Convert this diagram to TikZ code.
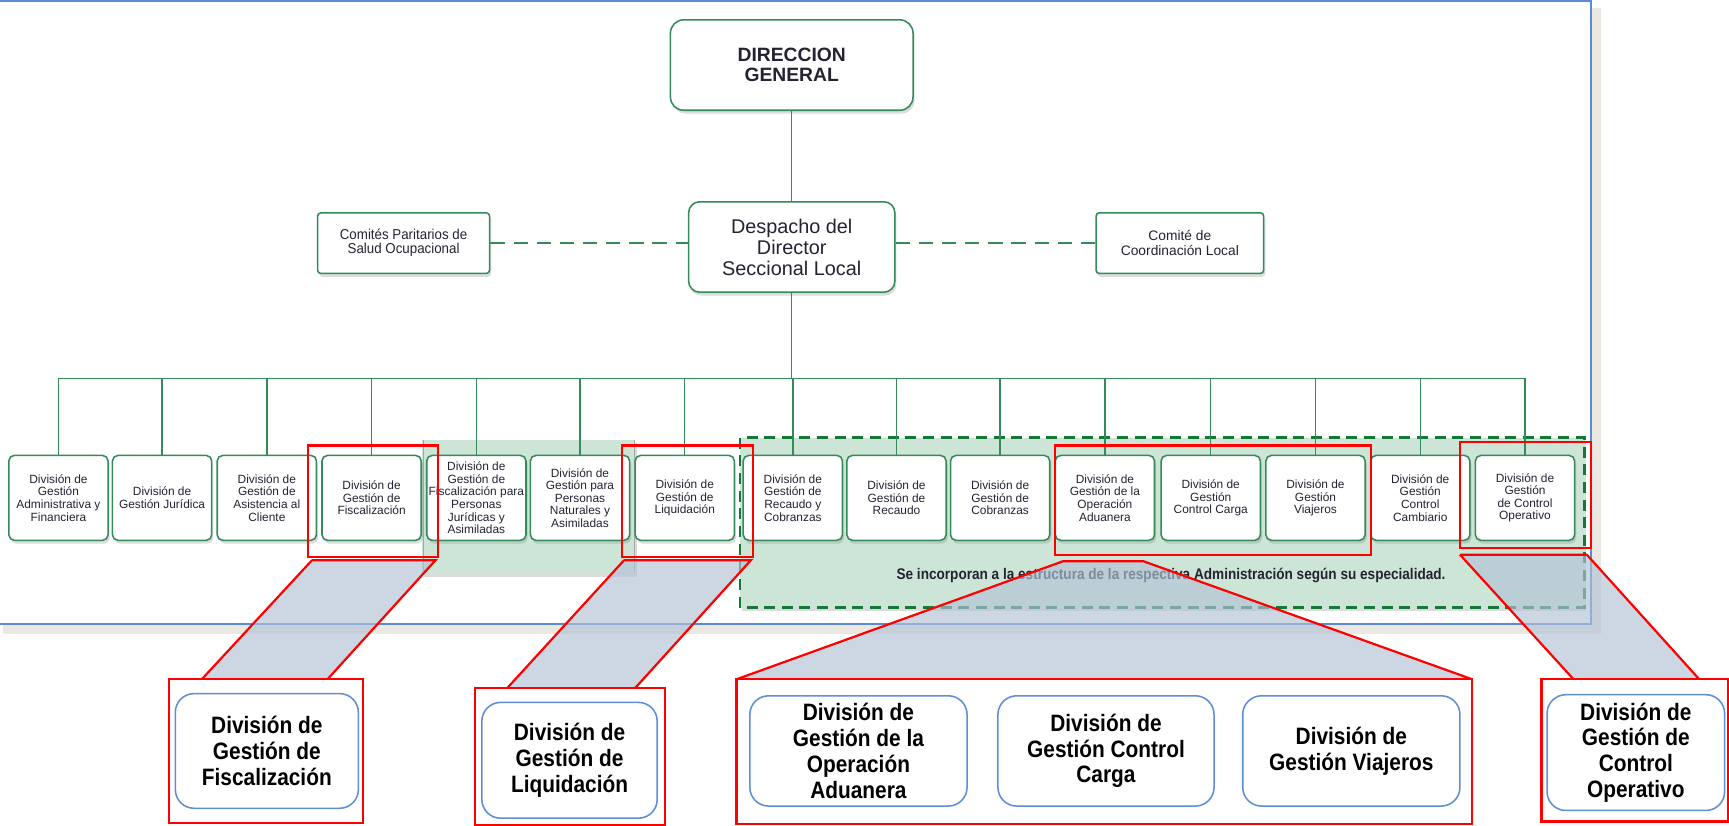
\documentclass[tikz,border=0pt]{standalone}
\usepackage{fontspec}
\setmainfont{Liberation Sans}
\newfontfamily\narrowfam[FakeStretch=0.88]{Liberation Sans}
\newfontfamily\condfam[FakeStretch=0.93]{Liberation Sans}
\usetikzlibrary{shadows}
\definecolor{bgreen}{RGB}{52,138,88}
\definecolor{regfill}{RGB}{205,229,214}
\definecolor{dgreen}{RGB}{20,120,55}
\definecolor{frameblue}{RGB}{91,139,214}
\definecolor{boxblue}{RGB}{96,142,214}
\definecolor{trapfill}{RGB}{178,194,214}
\definecolor{beige}{RGB}{234,232,224}
\definecolor{txtgray}{RGB}{35,35,50}
\definecolor{pured}{RGB}{255,0,0}
\tikzset{
  soft/.style={drop shadow={opacity=0.28, shadow xshift=1.5pt, shadow yshift=-3pt}},
  greenbox/.style={draw=bgreen, line width=1.4pt, fill=white, align=center, inner sep=1pt, text=txtgray, soft},
  smallbox/.style={greenbox, rounded corners=5pt, minimum width=90pt, minimum height=77pt,
    font=\fontsize{10.8}{11.4}\selectfont},
  conn/.style={draw=bgreen, line width=1.3pt},
  dconn/.style={draw=bgreen, line width=1.8pt, dash pattern=on 13pt off 8pt},
  redline/.style={draw=pured, line width=2pt},
  trap/.style={fill=trapfill, fill opacity=0.65},
  bluebox/.style={draw=boxblue, line width=1.4pt, rounded corners=17pt, fill=white, align=center,
    inner sep=1pt, font=\narrowfam\bfseries\fontsize{21.5}{23.3}\selectfont, text=black},
}
\begin{document}
\begin{tikzpicture}[x=1pt,y=-1pt]
\useasboundingbox (0,0) rectangle (1568,749);
% frame and its shadow
\fill[beige] (1444,7) rectangle (1452,575);
\fill[beige] (3,567) rectangle (1452,575);
\draw[frameblue, line width=2pt] (0,1.2) -- (1443,1.2) -- (1443,566) -- (0,566);
% shaded regions
\fill[regfill, soft] (383,399) rectangle (576,520);
\draw[gray!70, line width=0.8pt] (384,399) -- (384,520) (575,399) -- (575,520);
\draw[dgreen, line width=2.5pt, dash pattern=on 10pt off 6pt, fill=regfill, soft] (671,397) rectangle (1437,551);
\node[font=\narrowfam\bfseries\fontsize{14}{16}\selectfont, text=txtgray, inner sep=0pt] (note) at (1062,522)
  {Se incorporan a la estructura de la respectiva Administración según su especialidad.};
% top nodes
\node[greenbox, rounded corners=12pt, minimum width=220pt, minimum height=82pt,
  font=\bfseries\fontsize{17.5}{18.5}\selectfont] (dg) at (718,59) {DIRECCION\\GENERAL};
\node[greenbox, rounded corners=10pt, minimum width=187pt, minimum height=82pt,
  font=\fontsize{18}{19}\selectfont] (desp) at (718,224) {Despacho del\\Director\\Seccional Local};
\node[greenbox, rounded corners=3pt, minimum width=156pt, minimum height=55pt,
  font=\condfam\fontsize{13}{12.8}\selectfont] (comp) at (366,220.5) {Comités Paritarios de\\Salud Ocupacional};
\node[greenbox, rounded corners=3pt, minimum width=152pt, minimum height=55pt,
  font=\fontsize{12.5}{13.5}\selectfont] (coord) at (1070,220.5) {Comité de\\Coordinación Local};
% bottom row
\node[smallbox] (b1) at (53,451.5) {División de\\Gestión\\Administrativa y\\Financiera};
\node[smallbox] (b2) at (147,451.5) {División de\\Gestión Jurídica};
\node[smallbox] (b3) at (242,451.5) {División de\\Gestión de\\Asistencia al\\Cliente};
\node[smallbox] (b4) at (337,451.5) {División de\\Gestión de\\Fiscalización};
\node[smallbox] (b5) at (432,451.5) {División de\\Gestión de\\Fiscalización para\\Personas\\Jurídicas y\\Asimiladas};
\node[smallbox] (b6) at (526,451.5) {División de\\Gestión para\\Personas\\Naturales y\\Asimiladas};
\node[smallbox] (b7) at (621,451.5) {División de\\Gestión de\\Liquidación};
\node[smallbox] (b8) at (719,451.5) {División de\\Gestión de\\Recaudo y\\Cobranzas};
\node[smallbox] (b9) at (813,451.5) {División de\\Gestión de\\Recaudo};
\node[smallbox] (b10) at (907,451.5) {División de\\Gestión de\\Cobranzas};
\node[smallbox] (b11) at (1002,451.5) {División de\\Gestión de la\\Operación\\Aduanera};
\node[smallbox] (b12) at (1098,451.5) {División de\\Gestión\\Control Carga};
\node[smallbox] (b13) at (1193,451.5) {División de\\Gestión\\Viajeros};
\node[smallbox] (b14) at (1288,451.5) {División de\\Gestión\\Control\\Cambiario};
\node[smallbox] (b15) at (1383,451.5) {División de\\Gestión\\de Control\\Operativo};
% connectors
\coordinate (bus) at (718,343);
\draw[conn] (dg.south) -- (desp.north);
\draw[conn] (desp.south) -- (desp.south |- bus);
\draw[conn] (b1.north |- bus) -- (b15.north |- bus);
\foreach \i in {1,...,15} { \draw[conn] (b\i.north) -- (b\i.north |- bus); }
\draw[dconn] (comp.east) -- (desp.west |- comp.east);
\draw[dconn] (desp.east |- coord.west) -- (coord.west);
% callout bands
\path[trap] (283,508) -- (395,508) -- (297,616) -- (183,616) -- cycle;
\path[trap] (566,508) -- (681,508) -- (576,624) -- (460,624) -- cycle;
\path[trap] (964,509) -- (1037,509) -- (1335,616) -- (668,616) -- cycle;
\path[trap] (1324,503) -- (1439,503) -- (1541,616) -- (1427,616) -- cycle;
\draw[redline] (283,508) -- (395,508) -- (297,616) (183,616) -- (283,508);
\draw[redline] (566,508) -- (681,508) -- (576,624) (460,624) -- (566,508);
\draw[redline] (964,509) -- (1037,509) -- (1335,616) (668,616) -- (964,509);
\draw[redline] (1324,503) -- (1439,503) -- (1541,616) (1427,616) -- (1324,503);
% red highlight frames
\draw[redline] (279,404) rectangle (397,505);
\draw[redline] (564,404) rectangle (683,505);
\draw[redline] (957,404) rectangle (1243,503);
\draw[redline] (1324,401) rectangle (1443,497);
% enlarged panels
\draw[redline, fill=white] (153,616) rectangle (329,746);
\draw[redline, fill=white] (431,624) rectangle (603,748);
\draw[redline, fill=white] (668,616) rectangle (1335,747);
\draw[redline, fill=white] (1398,616) rectangle (1567,745);
\node[bluebox, minimum width=166pt, minimum height=104pt] (p1) at (242,681) {División de\\Gestión de\\Fiscalización};
\node[bluebox, minimum width=159pt, minimum height=105pt] (p2) at (516.5,689.5) {División de\\Gestión de\\Liquidación};
\node[bluebox, minimum width=197pt, minimum height=100pt] (p3) at (778.5,681) {División de\\Gestión de la\\Operación\\Aduanera};
\node[bluebox, minimum width=196pt, minimum height=100pt] (p4) at (1003,681) {División de\\Gestión Control\\Carga};
\node[bluebox, minimum width=197pt, minimum height=100pt] (p5) at (1225.5,681) {División de\\Gestión Viajeros};
\node[bluebox, minimum width=161pt, minimum height=105pt] (p6) at (1483.5,682.5) {División de\\Gestión de\\Control\\Operativo};
\end{tikzpicture}
\end{document}
